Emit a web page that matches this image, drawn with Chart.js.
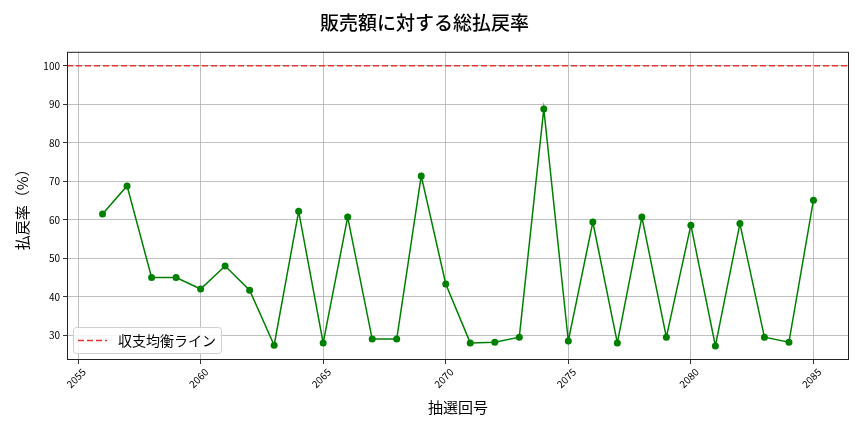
<!DOCTYPE html>
<html><head><meta charset="utf-8">
<script src="https://cdn.jsdelivr.net/npm/chart.js@4/dist/chart.umd.min.js"></script>
<style>html,body{margin:0;padding:0;background:#fff}#wrap{width:864px;height:432px}</style>
</head><body><div id="wrap"><canvas id="c" width="864" height="432"></canvas></div>
<script>
const draws = [2056,2057,2058,2059,2060,2061,2062,2063,2064,2065,2066,2067,2068,2069,2070,2071,2072,2073,2074,2075,2076,2077,2078,2079,2080,2081,2082,2083,2084,2085];
const payoutRate = [61.5,68.8,45.0,45.0,42.0,48.0,41.7,27.4,62.2,28.0,60.7,29.0,29.0,71.4,43.3,28.0,28.2,29.5,88.8,28.5,59.4,28.0,60.7,29.5,58.6,27.2,59.0,29.5,28.2,65.1];
const breakEven = 100;
const xTicks = [2055,2060,2065,2070,2075,2080,2085];
const yTicks = [30,40,50,60,70,80,90,100];
const titleText = '販売額に対する総払戻率';
const xLabel = '抽選回号';
const yLabel = '払戻率（%）';
const legendLabel = '収支均衡ライン';

const FONT = "'Noto Sans CJK JP','Noto Sans',sans-serif";
const xSpan = draws[draws.length-1]-draws[0];
const xMin = draws[0]-xSpan*0.05, xMax = draws[draws.length-1]+xSpan*0.05;
const allY = payoutRate.concat([breakEven]);
const yLo = Math.min(...allY), yHi = Math.max(...allY);
const ySpan = yHi-yLo;
const yMin = yLo-ySpan*0.05, yMax = yHi+ySpan*0.05;

const framePlugin = {
  id:'frame',
  afterDatasetsDraw(chart){
    const {ctx, chartArea:a} = chart;
    ctx.save();
    ctx.strokeStyle='#222'; ctx.lineWidth=1;
    ctx.strokeRect(a.left+0.5,a.top+0.5,a.right-a.left-1,a.bottom-a.top-1);
    // legend box inside plot (lower left)
    const bx=a.left+6, by=a.bottom-33, bw=148, bh=26;
    ctx.fillStyle='rgba(255,255,255,0.85)';
    ctx.strokeStyle='#d0d0d0';
    ctx.beginPath();
    if(ctx.roundRect){ctx.roundRect(bx+0.5,by+0.5,bw,bh,3);} else {ctx.rect(bx+0.5,by+0.5,bw,bh);}
    ctx.fill(); ctx.stroke();
    ctx.strokeStyle='#e8322e'; ctx.lineWidth=1.6; ctx.setLineDash([6,3]);
    ctx.beginPath(); ctx.moveTo(bx+5,by+13.5); ctx.lineTo(bx+34,by+13.5); ctx.stroke();
    ctx.setLineDash([]);
    ctx.fillStyle='#000'; ctx.font='14px '+FONT; ctx.textBaseline='middle'; ctx.textAlign='left';
    ctx.fillText(chart.data.datasets[1].label,bx+45,by+13.5);
    ctx.restore();
  }
};

new Chart(document.getElementById('c'),{
  type:'line',
  data:{datasets:[
    {label:'払戻率', data:draws.map((d,i)=>({x:d,y:payoutRate[i]})), borderColor:'#008000', backgroundColor:'#008000', borderWidth:1.5, pointRadius:3.5, pointHoverRadius:3.5, pointBorderWidth:0, tension:0, order:1},
    {label:legendLabel, data:[{x:xMin,y:breakEven},{x:xMax,y:breakEven}], borderColor:'#e03a36', borderWidth:1.6, borderDash:[6,3], pointRadius:0, order:2}
  ]},
  options:{
    responsive:false, animation:false, devicePixelRatio:1,
    layout:{padding:{left:0,right:15,top:0,bottom:0}},
    plugins:{
      legend:{display:false}, tooltip:{enabled:false},
      title:{display:true,text:titleText,color:'#000',font:{family:FONT,size:19,weight:'500'},padding:{top:11,bottom:18}}
    },
    scales:{
      x:{type:'linear',min:xMin,max:xMax,
        afterBuildTicks(s){s.ticks=xTicks.map(v=>({value:v}));},
        afterFit(s){s.height=72;},
        ticks:{color:'#000',font:{family:FONT,size:10},minRotation:45,maxRotation:45,padding:2,labelOffset:6,callback:v=>String(v)},
        grid:{color:'#b0b0b0',lineWidth:0.8,tickColor:'#000',tickLength:4,drawTicks:true},
        border:{display:false},
        title:{display:true,text:xLabel,color:'#000',font:{family:FONT,size:15},padding:{top:4,bottom:16}}
      },
      y:{type:'linear',min:yMin,max:yMax,
        afterBuildTicks(s){s.ticks=yTicks.map(v=>({value:v}));},
        afterFit(s){s.width=67;},
        ticks:{color:'#000',font:{family:FONT,size:10},padding:3},
        grid:{color:'#b0b0b0',lineWidth:0.8,tickColor:'#000',tickLength:4,drawTicks:true},
        border:{display:false},
        title:{display:true,text:yLabel,color:'#000',font:{family:FONT,size:15},padding:{top:13,bottom:0}}
      }
    }
  },
  plugins:[framePlugin]
});
</script></body></html>
